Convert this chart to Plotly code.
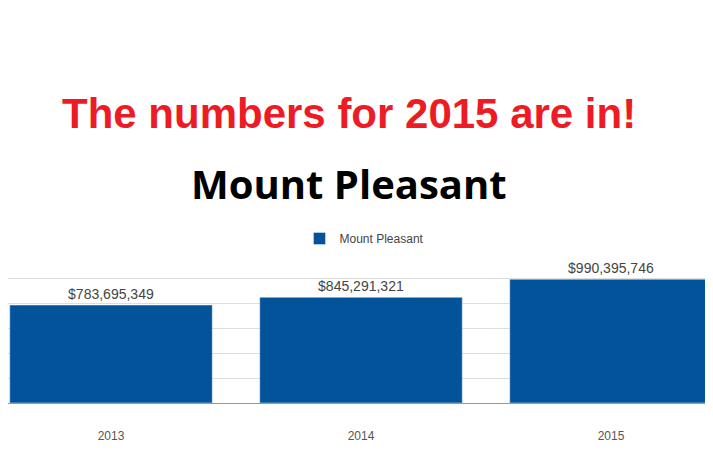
import plotly.graph_objects as go

years = ["2013", "2014", "2015"]
values = [783695349, 845291321, 990395746]
changes = ["", "+7.9%", "+17.2%"]
value_text = [f"${v:,}" for v in values]

fig = go.Figure()
fig.add_trace(go.Bar(
    x=years, y=values, name="Mount Pleasant",
    marker_color="#02539a", width=0.81,
    text=value_text, textposition="outside",
    textfont=dict(size=14, color="#444", family="Arial"),
    cliponaxis=False,
))

# percent change labels under the bars
for yr, ch in zip(years, changes):
    if ch:
        fig.add_annotation(x=yr, xref="x", y=0, yref="paper", yanchor="top",
                           text=f"<b>{ch}</b>", showarrow=False, yshift=-2,
                           font=dict(size=14, color="#444", family="Arial"))

# red headline, placed in pixel terms relative to the plot area (245..395 px)
fig.add_annotation(x=0.478, xref="paper", y=1 + (245 - 105) / 150, yref="paper",
                   yanchor="middle", text="<b>The numbers for 2015 are in!</b>",
                   showarrow=False,
                   font=dict(size=42, color="#ed1c24", family="Liberation Sans, Arial"))
fig.add_annotation(x=0.478, xref="paper", y=1 + (245 - 175) / 150, yref="paper",
                   yanchor="middle", text="<b>Mount Pleasant</b>", showarrow=False,
                   font=dict(size=40, color="black", family="Open Sans"))

fig.update_layout(
    width=713, height=467,
    margin=dict(l=0, r=0, t=245, b=72, autoexpand=False),
    paper_bgcolor="white", plot_bgcolor="white",
    showlegend=True,
    legend=dict(orientation="h", x=0.5, xanchor="center", y=1.0, yanchor="bottom",
                font=dict(size=12, color="#444", family="Arial")),
    xaxis=dict(range=[-0.412, 2.44], showgrid=False, ticks="", automargin=False,
               tickfont=dict(size=12, color="#555", family="Arial"),
               ticklabelstandoff=22, showline=True, linecolor="#999"),
    yaxis=dict(range=[0, 1.2e9], dtick=2e8, showticklabels=False, automargin=False,
               gridcolor="#ddd", zeroline=False),
)

fig.write_html("out.html")
